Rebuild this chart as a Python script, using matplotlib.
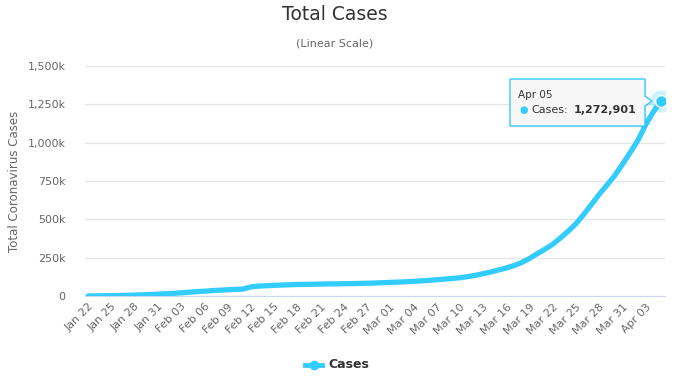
import matplotlib.pyplot as plt
import numpy as np

# data: total coronavirus cases, Jan 22 -> Apr 05
dates = (["Jan %02d" % d for d in range(22, 32)]
         + ["Feb %02d" % d for d in range(1, 30)]
         + ["Mar %02d" % d for d in range(1, 32)]
         + ["Apr %02d" % d for d in range(1, 6)])

cases = [580, 845, 1317, 2015, 2800, 4581, 6058, 7813, 9823, 11950,
         14553, 17391, 20630, 24545, 28266, 31439, 34876, 37552, 40553, 43099,
         45134, 59287, 64438, 67100, 69197, 71329, 73332, 75184, 75700, 76677,
         77673, 78651, 79205, 80087, 80828, 81820, 83112, 84615, 86604,
         88585, 90443, 93016, 95314, 98425, 102050, 106099, 109991, 114381, 118948,
         126214, 134576, 145483, 156653, 169593, 182490, 198238, 218822, 244933, 275597,
         305036, 337489, 378830, 422574, 471035, 531865, 596366, 663127, 723390, 784794,
         858361,
         935197, 1015466, 1116700, 1201483, 1272901]

yticks = [0, 250000, 500000, 750000, 1000000, 1250000, 1500000]
ytick_labels = ["0", "250k", "500k", "750k", "1,000k", "1,250k", "1,500k"]

color = "#33ccff"
W, H = 679, 383

fig = plt.figure(figsize=(W / 100, H / 100), dpi=100)
ax = fig.add_axes([85 / W, 1 - 296 / H, 580 / W, 230 / H])

x = np.arange(len(cases))
ax.plot(x, cases, color=color, lw=3.8, solid_capstyle="round", zorder=3)

# last point marker with halo
ax.plot(x[-1], cases[-1], "o", ms=16, color=color, alpha=0.25, mec="none", zorder=4)
ax.plot(x[-1], cases[-1], "o", ms=8.5, color=color, mec="white", mew=1, zorder=5)

ax.set_xlim(-0.4, 74.5)
ax.set_ylim(0, 1500000)
ax.set_yticks(yticks)
ax.set_yticklabels(ytick_labels)
ax.set_xticks(x[::3])
ax.set_xticklabels(dates[::3], rotation=45, ha="right", va="top", rotation_mode="anchor")

for s in ["top", "right", "left"]:
    ax.spines[s].set_visible(False)
ax.spines["bottom"].set_color("#ccd6eb")
ax.grid(axis="y", color="#e6e6e6", lw=1)
ax.set_axisbelow(True)
ax.tick_params(axis="both", length=0, colors="#666666", labelsize=8)
ax.tick_params(axis="y", pad=14)
ax.tick_params(axis="x", pad=4)

fig.text(15 / W, 1 - 181 / H, "Total Coronavirus Cases", rotation=90, ha="center",
         va="center", color="#666666", fontsize=8.5)

fig.text(335 / W, 1 - 15 / H, "Total Cases", ha="center", va="center",
         fontsize=13.5, color="#333333")
fig.text(335 / W, 1 - 44 / H, "(Linear Scale)", ha="center", va="center",
         fontsize=8, color="#666666")

# tooltip (box with small pointer toward the last point, light shadow)
bx = [510, 645, 645, 652, 645, 645, 510, 510]
by = [79, 79, 96, 101, 106, 126, 126, 79]
shadow = plt.Polygon([((px + 1.5) / W, 1 - (py + 1.5) / H) for px, py in zip(bx, by)],
                     closed=True, transform=fig.transFigure, facecolor="#000000",
                     alpha=0.08, edgecolor="none", zorder=9)
box = plt.Polygon([(px / W, 1 - py / H) for px, py in zip(bx, by)], closed=True,
                  transform=fig.transFigure, facecolor="#f7f7f7", edgecolor=color,
                  lw=1, zorder=10)
fig.patches.append(shadow)
fig.patches.append(box)
fig.text(518 / W, 1 - 95 / H, "Apr 05", fontsize=7.5, color="#333333", va="center", zorder=11)
fig.text(519 / W, 1 - 110 / H, "\u25cf", fontsize=7, color=color, va="center", zorder=11)
fig.text(531 / W, 1 - 110 / H, "Cases:", fontsize=8, color="#333333", va="center", zorder=11)
fig.text(574 / W, 1 - 110 / H, "{:,}".format(cases[-1]), fontsize=8, color="#333333",
         fontweight="bold", va="center", zorder=11)

# legend
fig.lines.append(plt.Line2D([305 / W, 322 / W], [1 - 365 / H, 1 - 365 / H], transform=fig.transFigure,
                            color=color, lw=3.5))
fig.lines.append(plt.Line2D([313.5 / W], [1 - 365 / H], transform=fig.transFigure,
                            marker="o", ms=6, color=color))
fig.text(328 / W, 1 - 365 / H, "Cases", fontsize=9, fontweight="bold", color="#333333", va="center")

fig.savefig("out.png", dpi=100)
